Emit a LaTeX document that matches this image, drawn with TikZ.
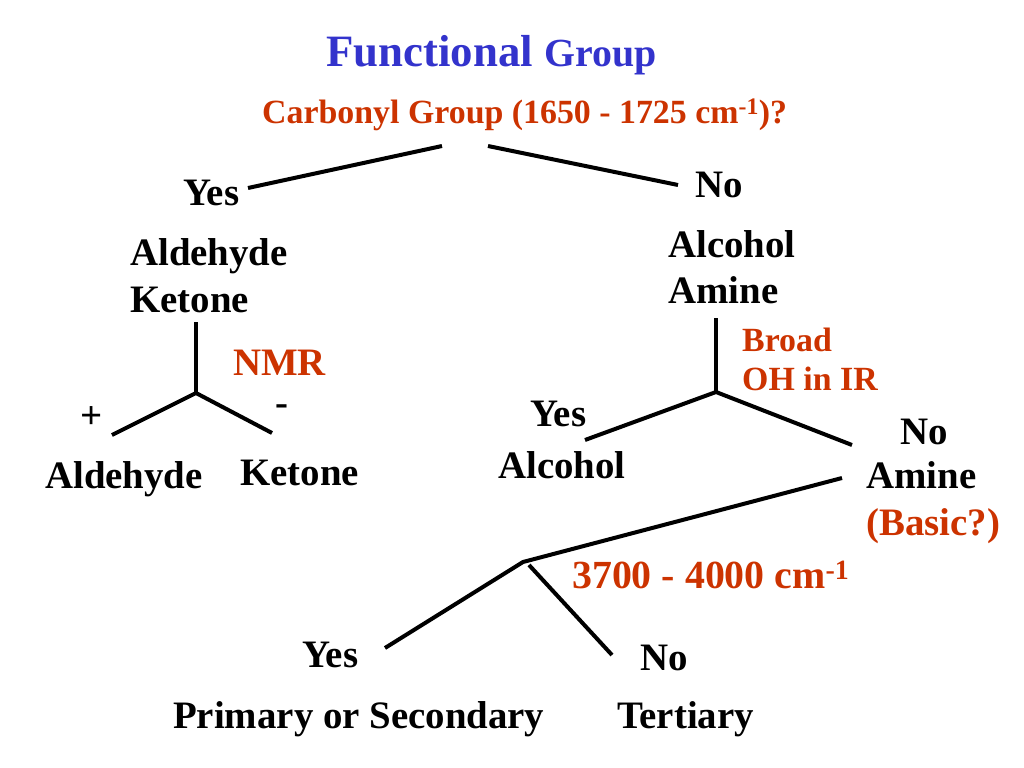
\documentclass[tikz,border=0pt]{standalone}
\usepackage{fontspec}
\setmainfont{Liberation Serif}
\usepackage{tikz}
\definecolor{titleblue}{RGB}{51, 51, 204}
\definecolor{rustred}{RGB}{204, 51, 0}

\begin{document}
\begin{tikzpicture}[x=1bp, y=-1bp, line cap=butt, line join=round,
	lbl/.style={inner sep=0pt, anchor=base west, font=\fontsize{39}{47}\selectfont\bfseries},
	small/.style={lbl, font=\fontsize{34}{41}\selectfont\bfseries},
	redlbl/.style={lbl, text=rustred},
	branch/.style={line width=4bp, black}]
	\useasboundingbox (0,0) rectangle (1024,768);

	% title and first question
	\node[lbl, text=titleblue] (title) at (326,67) {\fontsize{45}{54}\selectfont Functional {\fontsize{40}{48}\selectfont Group}};
	\node[small, text=rustred] (carbonyl) at (262,123) {Carbonyl Group (1650 - 1725 cm\textsuperscript{-1})?};

	% first split
	\coordinate (cL) at (442,146);
	\coordinate (cR) at (488,146);
	\coordinate (yesend) at (248,188);
	\coordinate (noend) at (678,185);
	\draw[branch] (cL)--(yesend);
	\draw[branch] (cR)--(noend);
	\node[lbl] (yes1) at (183,205) {Yes};
	\node[lbl] (no1) at (695,197) {No};

	% carbonyl side
	\node[lbl] (ald1) at (130,265) {Aldehyde};
	\node[lbl] (ket1) at (130,312) {Ketone};
	\coordinate (nTop) at (196,322);
	\coordinate (nFork) at (196,393);
	\coordinate (nLeft) at (112,435);
	\coordinate (nRight) at (272,433);
	\draw[branch] (nTop)--(nFork);
	\draw[branch] (nLeft)--(nFork)--(nRight);
	\node[redlbl] (nmr) at (233,375) {NMR};
	\node[lbl] (plus) at (80,428) {+};
	\node[lbl] (minus) at (275,415) {-};
	\node[lbl] (ald2) at (45,488) {Aldehyde};
	\node[lbl] (ket2) at (240,485) {Ketone};

	% no carbonyl side
	\node[lbl] (alc1) at (668,257) {Alcohol};
	\node[lbl] (ami1) at (668,303) {Amine};
	\coordinate (oTop) at (716,318);
	\coordinate (oFork) at (716,392);
	\coordinate (oLeft) at (585,440);
	\coordinate (oRight) at (852,445);
	\draw[branch] (oTop)--(oFork);
	\draw[branch] (oLeft)--(oFork)--(oRight);
	\node[small, text=rustred] (broad) at (742,351) {Broad};
	\node[small, text=rustred] (ohir) at (742,390) {OH in IR};
	\node[lbl] (yes2) at (530,426) {Yes};
	\node[lbl] (alc2) at (498,478) {Alcohol};
	\node[lbl] (no2) at (900,444) {No};
	\node[lbl] (ami2) at (866,488) {Amine};
	\node[redlbl] (basic) at (866,535) {(Basic?)};

	% amine test
	\coordinate (aStart) at (842,478);
	\coordinate (aFork) at (523,562);
	\coordinate (aFork2) at (529,565);
	\coordinate (aLeft) at (385,648);
	\coordinate (aRight) at (612,655);
	\draw[branch] (aStart)--(aFork)--(aLeft);
	\draw[branch] (aFork2)--(aRight);
	\node[redlbl, font=\fontsize{40}{48}\selectfont\bfseries] (range) at (572,588) {3700 - 4000 cm\textsuperscript{-1}};
	\node[lbl] (yes3) at (302,667) {Yes};
	\node[lbl] (no3) at (640,670) {No};
	\node[lbl] (prim) at (173,728) {Primary or Secondary};
	\node[lbl] (tert) at (617,728) {Tertiary};
\end{tikzpicture}
\end{document}
